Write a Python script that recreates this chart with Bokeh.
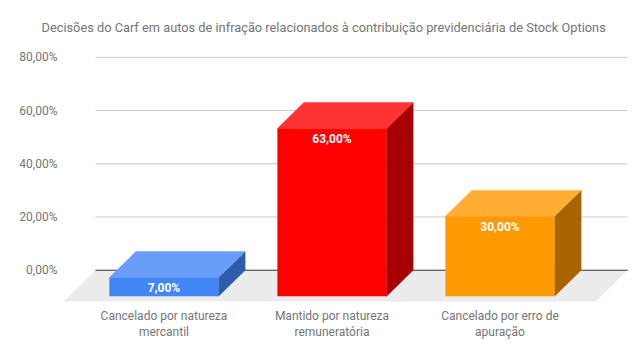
from bokeh.plotting import figure
from bokeh.models import FixedTicker, Range1d
from bokeh.embed import file_html
from bokeh.resources import INLINE
from bokeh.core.properties import value

# ---------------- data ----------------
title_text = ("Decisões do Carf em autos de infração relacionados à "
              "contribuição previdenciária de Stock Options")
categories = ["Cancelado por natureza\nmercantil",
              "Mantido por natureza\nremuneratória",
              "Cancelado por erro de\napuração"]
values = [7.0, 63.0, 30.0]
value_labels = ["7,00%", "63,00%", "30,00%"]
y_ticks = [0, 20, 40, 60, 80]
y_tick_labels = ["0,00%", "20,00%", "40,00%", "60,00%", "80,00%"]

# ---------------- styles ----------------
front_colors = ["#4285f4", "#ff0000", "#ff9900"]
top_colors = ["#6a9ef6", "#ff3333", "#ffad33"]
side_colors = ["#2d5cab", "#a60000", "#a86400"]
FONT = "Roboto"
GREY = "#757575"

# geometry in data units (3D depth offsets)
BAR_W = 0.65
DX = 0.158
DY = 9.73
FLOOR_DX = 0.19
FLOOR_DY = 11.75
BACK_X0, BACK_X1 = -0.408, 2.76

p = figure(width=628, height=342, output_backend="svg", toolbar_location=None,
           x_range=Range1d(-0.604, 2.765), y_range=Range1d(-12.5, 82.2),
           min_border_left=62, min_border_right=0, min_border_top=49,
           min_border_bottom=35)
p.outline_line_color = None
p.xgrid.visible = False
p.ygrid.visible = False

# floor
p.patch([BACK_X0 - FLOOR_DX, BACK_X1 - FLOOR_DX, BACK_X1, BACK_X0],
        [-FLOOR_DY, -FLOOR_DY, 0, 0], fill_color="#ebebeb", line_color=None)

# gridlines (back plane)
grid_ticks = [t for t in y_ticks if t != 0]
p.segment(x0=[BACK_X0] * len(grid_ticks), x1=[BACK_X1] * len(grid_ticks),
          y0=grid_ticks, y1=grid_ticks, line_color="#cccccc", line_width=1)
# baseline
p.segment(x0=[BACK_X0], x1=[BACK_X1], y0=[0], y1=[0], line_color="#333333", line_width=1)

# bars
hw = BAR_W / 2
front_xs, front_ys, top_xs, top_ys, side_xs, side_ys = [], [], [], [], [], []
for i, v in enumerate(values):
    l, r = i - hw, i + hw
    front_xs.append([l, r, r, l])
    front_ys.append([-DY, -DY, v - DY, v - DY])
    top_xs.append([l, r, r + DX, l + DX])
    top_ys.append([v - DY, v - DY, v, v])
    side_xs.append([r, r + DX, r + DX, r])
    side_ys.append([-DY, 0, v, v - DY])

p.patches(side_xs, side_ys, fill_color=side_colors, line_color=side_colors, line_width=0.5)
p.patches(top_xs, top_ys, fill_color=top_colors, line_color=top_colors, line_width=0.5)
p.patches(front_xs, front_ys, fill_color=front_colors, line_color=None)

p.text(x=list(range(len(values))), y=[v - DY - 4.0 for v in values], text=value_labels,
       text_color="white", text_font=value(FONT), text_font_style="bold",
       text_font_size="12px", text_align="center", text_baseline="middle")

# axes
p.yaxis.ticker = FixedTicker(ticks=y_ticks)
p.yaxis.major_label_overrides = {t: lab for t, lab in zip(y_ticks, y_tick_labels)}
p.xaxis.ticker = FixedTicker(ticks=list(range(len(categories))))
p.xaxis.major_label_overrides = {i: c for i, c in enumerate(categories)}
for ax in (p.xaxis[0], p.yaxis[0]):
    ax.axis_line_color = None
    ax.major_tick_line_color = None
    ax.minor_tick_line_color = None
    ax.major_tick_out = 0
    ax.major_tick_in = 0
    ax.major_label_text_font = FONT
    ax.major_label_text_font_size = "12px"
    ax.major_label_text_color = GREY
p.yaxis.major_label_standoff = 5
p.xaxis.major_label_standoff = 5

p.title.text = title_text
p.title.align = "left"
p.title.offset = -21
p.title.standoff = 34
p.title.text_line_height = 1.0
p.title.text_font = FONT
p.title.text_font_size = "12.8px"
p.title.text_font_style = "normal"
p.title.text_color = GREY

open("out.html", "w").write(file_html(p, INLINE))
